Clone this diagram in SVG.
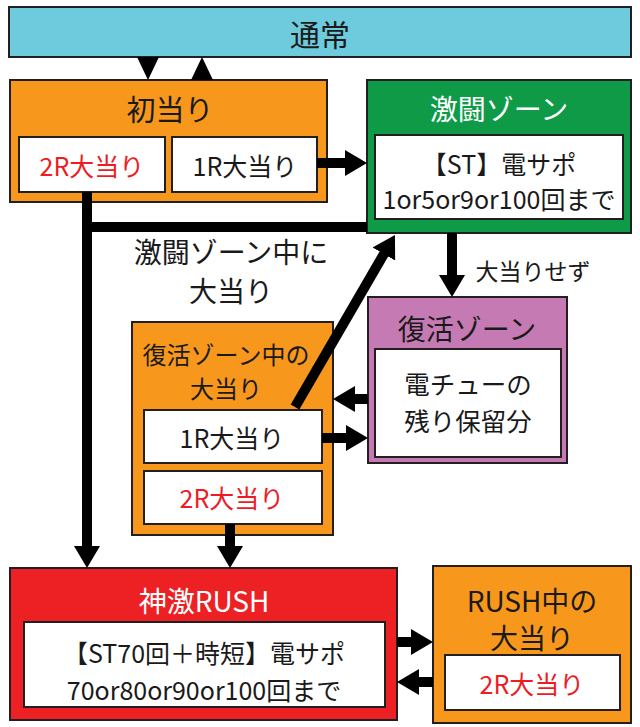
<svg xmlns="http://www.w3.org/2000/svg" width="640" height="727" viewBox="0 0 640 727">
<defs>
<style>
.box{stroke:#231f20;stroke-width:2}
.w{fill:#ffffff;stroke:#231f20;stroke-width:2}
text{font-family:"Noto Sans CJK JP","Noto Sans",sans-serif;text-anchor:middle;dominant-baseline:central;fill:#1a1a1a}
.t{font-size:28px}
.s{font-size:25px}
.red{fill:#ed1c24}
.wt{fill:#ffffff}
.ln{stroke:#000;stroke-width:10;fill:none}
</style>
<marker id="ah" viewBox="0 0 22 26" refX="2" refY="13" markerWidth="22" markerHeight="26" markerUnits="userSpaceOnUse" orient="auto">
<path d="M0,0 L22,13 L0,26 Z" fill="#000"/>
</marker>
</defs>
<rect width="640" height="727" fill="#ffffff"/>

<g id="tsujo">
<rect class="box" x="9" y="7" width="622" height="50" fill="#6dcbdd"/>
<text x="320" y="33" style="font-size:30px">通常</text>
</g>

<g id="hatsuatari">
<rect class="box" x="10" y="80" width="317" height="122" fill="#f7981d"/>
<text x="170" y="108" style="font-size:29px">初当り</text>
<rect class="w" x="19" y="137" width="146" height="55"/>
<text class="s red" x="92" y="165">2R大当り</text>
<rect class="w" x="172" y="137" width="145" height="55"/>
<text class="s" x="245" y="165">1R大当り</text>
</g>

<g id="gekito">
<rect class="box" x="367" y="80" width="264" height="153" fill="#0f9a48"/>
<text class="t wt" x="499" y="108">激闘ゾーン</text>
<rect class="w" x="375" y="135" width="248" height="84"/>
<text class="s" x="499" y="163">【ST】電サポ</text>
<text class="s" x="499" y="198">1or5or9or100回まで</text>
</g>

<g id="label-gekito">
<text class="t" x="231" y="251">激闘ゾーン中に</text>
<text class="t" x="231" y="290">大当り</text>
</g>

<g id="label-nashi">
<text x="533" y="270" style="font-size:23px">大当りせず</text>
</g>

<g id="fukkatsu-atari">
<rect class="box" x="132" y="322" width="201" height="213" fill="#f7981d"/>
<text x="226" y="353" style="font-size:24px">復活ゾーン中の</text>
<text x="226" y="387" style="font-size:24px">大当り</text>
<rect class="w" x="144" y="410" width="178" height="53"/>
<text class="s" x="232" y="437">1R大当り</text>
<rect class="w" x="144" y="471" width="178" height="53"/>
<text class="s red" x="232" y="497">2R大当り</text>
</g>

<g id="fukkatsu">
<rect class="box" x="368" y="297" width="199" height="166" fill="#c67ab4"/>
<text class="t" x="467" y="328">復活ゾーン</text>
<rect class="w" x="375" y="349" width="186" height="108"/>
<text x="468" y="382" style="font-size:25.5px">電チューの</text>
<text x="468" y="419" style="font-size:25.5px">残り保留分</text>
</g>

<g id="rush">
<rect class="box" x="10" y="568" width="387" height="152" fill="#ed2024"/>
<text class="t wt" x="204" y="600">神激RUSH</text>
<rect class="w" x="24" y="622" width="361" height="85"/>
<text class="s" x="204" y="652">【ST70回＋時短】電サポ</text>
<text class="s" x="204" y="689">70or80or90or100回まで</text>
</g>

<g id="rush-atari">
<rect class="box" x="433" y="566" width="198" height="157" fill="#f7981d"/>
<text class="t" x="532" y="600">RUSH中の</text>
<text class="t" x="532" y="637">大当り</text>
<rect class="w" x="445" y="655" width="175" height="55"/>
<text class="s red" x="532" y="683">2R大当り</text>
</g>

<g id="connectors">
<polygon points="137,57 159,57 148,80" fill="#000"/>
<polygon points="191,80 213,80 202,57" fill="#000"/>
<line class="ln" x1="317" y1="163" x2="347" y2="163" marker-end="url(#ah)"/>
<line class="ln" x1="87" y1="192" x2="87" y2="548" marker-end="url(#ah)"/>
<line class="ln" x1="82" y1="227" x2="367" y2="227"/>
<line class="ln" x1="452" y1="233" x2="452" y2="277" marker-end="url(#ah)"/>
<line class="ln" x1="295" y1="407" x2="384.9" y2="252.3" marker-end="url(#ah)"/>
<line class="ln" x1="368" y1="399" x2="353" y2="399" marker-end="url(#ah)"/>
<line class="ln" x1="322" y1="438" x2="348" y2="438" marker-end="url(#ah)"/>
<line class="ln" x1="230" y1="524" x2="230" y2="548" marker-end="url(#ah)"/>
<line class="ln" x1="397" y1="642" x2="413" y2="642" marker-end="url(#ah)"/>
<line class="ln" x1="433" y1="682" x2="417" y2="682" marker-end="url(#ah)"/>
</g>
</svg>
